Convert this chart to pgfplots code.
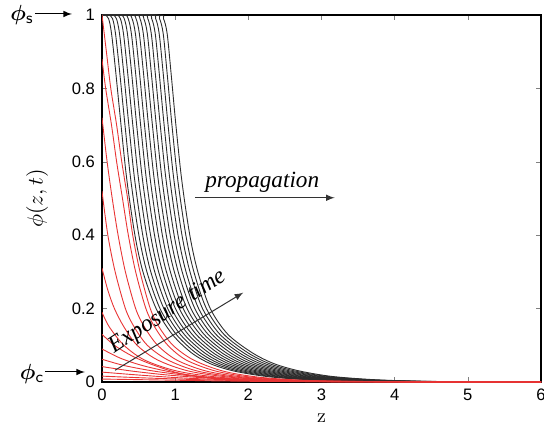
\documentclass[border=0pt]{standalone}
\usepackage[no-math]{fontspec}
\setmainfont{Liberation Sans}
\newfontfamily\serifit{Liberation Serif}
\usepackage{bm}
\usepackage{pgfplots}
\pgfplotsset{compat=1.18}
\usepackage{pgfplotstable}
\definecolor{curvered}{RGB}{232,52,52}
\definecolor{curveblk}{RGB}{45,45,45}

% black profiles: z position of each curve at fixed phi levels
\pgfplotstableread{
phi z0 z1 z2 z3 z4 z5 z6 z7 z8 z9 z10 z11 z12 z13 z14
1 0 0 0 0 0 0 0 0 0 0 0 0 0 0 0
1 0.040 0.092 0.144 0.196 0.249 0.301 0.353 0.405 0.457 0.509 0.561 0.614 0.666 0.718 0.770
0.99 0.090 0.144 0.197 0.251 0.304 0.358 0.411 0.465 0.519 0.572 0.626 0.679 0.733 0.786 0.840
0.95 0.130 0.184 0.239 0.293 0.347 0.401 0.456 0.510 0.564 0.619 0.673 0.727 0.781 0.836 0.890
0.85 0.185 0.239 0.293 0.347 0.401 0.455 0.509 0.563 0.616 0.670 0.724 0.778 0.832 0.886 0.940
0.7 0.260 0.314 0.367 0.421 0.474 0.528 0.581 0.635 0.689 0.742 0.796 0.849 0.903 0.956 1.010
0.55 0.340 0.394 0.447 0.501 0.554 0.608 0.661 0.715 0.769 0.822 0.876 0.929 0.983 1.036 1.090
0.4 0.450 0.504 0.557 0.611 0.664 0.718 0.771 0.825 0.879 0.932 0.986 1.039 1.093 1.146 1.200
0.3 0.560 0.614 0.667 0.721 0.774 0.828 0.881 0.935 0.989 1.042 1.096 1.149 1.203 1.256 1.310
0.2 0.740 0.793 0.846 0.899 0.951 1.004 1.057 1.110 1.163 1.216 1.269 1.321 1.374 1.427 1.480
0.13 0.960 1.014 1.069 1.123 1.177 1.231 1.286 1.340 1.394 1.449 1.503 1.557 1.611 1.666 1.720
0.08 1.220 1.279 1.339 1.398 1.457 1.516 1.576 1.635 1.694 1.754 1.813 1.872 1.931 1.991 2.050
0.05 1.480 1.542 1.604 1.666 1.729 1.791 1.853 1.915 1.977 2.039 2.101 2.164 2.226 2.288 2.350
0.03 1.800 1.864 1.929 1.993 2.057 2.121 2.186 2.250 2.314 2.379 2.443 2.507 2.571 2.636 2.700
0.015 2.250 2.314 2.379 2.443 2.507 2.571 2.636 2.700 2.764 2.829 2.893 2.957 3.021 3.086 3.150
0.006 2.800 2.868 2.936 3.004 3.071 3.139 3.207 3.275 3.343 3.411 3.479 3.546 3.614 3.682 3.750
0.002 3.450 3.518 3.586 3.654 3.721 3.789 3.857 3.925 3.993 4.061 4.129 4.196 4.264 4.332 4.400
0.0005 4.200 4.271 4.343 4.414 4.486 4.557 4.629 4.700 4.771 4.843 4.914 4.986 5.057 5.129 5.200
0 6 6 6 6 6 6 6 6 6 6 6 6 6 6 6
}\blacktab

\begin{document}
\begin{tikzpicture}
\begin{axis}[at={(0,0)},anchor=south west,scale only axis,
  width=219.5pt,height=183.5pt,
  xmin=0,xmax=6,ymin=0,ymax=1,
  xtick={0,1,2,3,4,5,6},xticklabels={0,1,2,3,4,5,6},
  ytick={0,0.2,0.4,0.6,0.8,1},yticklabels={0,0.2,0.4,0.6,0.8,1},
  tick align=inside,xtick pos=both,ytick pos=both,major tick length=2.5pt,
  tick label style={font=\fontsize{8.3}{10}\selectfont},
  axis line style={line width=0.6pt},
  xlabel={$\mathrm{z}$},ylabel={$\phi(z,t)$},
  xlabel style={font=\fontsize{10}{12}\selectfont,at={(axis description cs:0.5,-0.098)},anchor=center},
  ylabel style={font=\fontsize{11}{13}\selectfont,at={(axis description cs:-0.148,0.5)},anchor=center},
  every axis plot/.append style={smooth,tension=0.5}]
\pgfplotsinvokeforeach{0,...,14}{
  \addplot[curveblk,line width=0.45pt] table[x=z#1,y=phi]{\blacktab};
}
% early exposure profiles (red)
\addplot[curvered,line width=0.45pt] coordinates {(0,1) (0.06,0.9) (0.12,0.8) (0.2,0.7) (0.27,0.6) (0.35,0.5) (0.42,0.4) (0.52,0.3) (0.66,0.2) (0.78,0.15) (0.97,0.1) (1.25,0.06) (1.65,0.03) (2.15,0.013) (2.85,0.004) (3.9,0.001) (6,0)};
\addplot[curvered,line width=0.45pt] coordinates {(0,0.88) (0.05,0.8) (0.13,0.7) (0.2,0.6) (0.28,0.5) (0.36,0.4) (0.46,0.3) (0.6,0.2) (0.72,0.15) (0.9,0.1) (1.15,0.06) (1.55,0.03) (2.05,0.013) (2.75,0.004) (3.8,0.001) (6,0)};
\addplot[curvered,line width=0.45pt] coordinates {(0,0.72) (0.07,0.6) (0.14,0.5) (0.22,0.4) (0.32,0.3) (0.46,0.2) (0.58,0.15) (0.76,0.1) (1.02,0.06) (1.42,0.03) (1.95,0.013) (2.65,0.004) (3.7,0.001) (6,0)};
\addplot[curvered,line width=0.45pt] coordinates {(0,0.52) (0.08,0.4) (0.18,0.3) (0.32,0.2) (0.44,0.15) (0.62,0.1) (0.9,0.06) (1.3,0.03) (1.85,0.013) (2.55,0.004) (3.6,0.001) (6,0)};
\addplot[curvered,line width=0.45pt] coordinates {(0,0.31) (0.08,0.25) (0.17,0.2) (0.3,0.15) (0.48,0.1) (0.76,0.06) (1.18,0.03) (1.75,0.013) (2.5,0.004) (3.5,0.001) (6,0)};
\addplot[curvered,line width=0.45pt] coordinates {(0,0.19) (0.1,0.15) (0.3,0.1) (0.58,0.06) (1.02,0.03) (1.6,0.013) (2.4,0.004) (3.4,0.001) (6,0)};
\addplot[curvered,line width=0.45pt] coordinates {(0,0.13) (0.17,0.1) (0.42,0.07) (0.72,0.045) (1.1,0.022) (1.6,0.011) (2.3,0.004) (3.3,0.001) (6,0)};
\addplot[curvered,line width=0.45pt] coordinates {(0,0.09) (0.25,0.065) (0.55,0.045) (0.95,0.027) (1.45,0.012) (2.1,0.0045) (3.1,0.0012) (6,0)};
\addplot[curvered,line width=0.45pt] coordinates {(0,0.062) (0.3,0.045) (0.7,0.03) (1.2,0.017) (1.8,0.0065) (2.6,0.0025) (3.6,0.0007) (6,0)};
\addplot[curvered,line width=0.45pt] coordinates {(0,0.042) (0.4,0.03) (0.9,0.019) (1.5,0.01) (2.2,0.0038) (3.2,0.001) (6,0)};
\addplot[curvered,line width=0.45pt] coordinates {(0,0.027) (0.5,0.019) (1.1,0.011) (1.8,0.0055) (2.6,0.002) (3.6,0.0006) (6,0)};
\addplot[curvered,line width=0.45pt] coordinates {(0,0.016) (0.6,0.011) (1.3,0.0065) (2.1,0.003) (3.0,0.001) (6,0)};
\addplot[curvered,line width=0.45pt] coordinates {(0,0.008) (0.8,0.0055) (1.6,0.003) (2.6,0.0012) (6,0)};
\draw[-latex,line width=0.5pt,black!80] (axis cs:1.27,0.502) -- (axis cs:3.18,0.502);
\node[anchor=base,font=\serifit\itshape\fontsize{11.6}{14}\selectfont] at (axis cs:2.19,0.53) {propagation};
\draw[-latex,line width=0.5pt,black!80] (axis cs:0.178,0.032) -- (axis cs:1.93,0.2435);
\node[rotate=33.5,inner sep=0pt,font=\serifit\itshape\fontsize{11.8}{13}\selectfont] at (axis cs:0.9,0.19) {Exposure time};
\end{axis}
\draw[-latex,line width=0.5pt] (-33.5pt,184pt) -- (-15pt,184pt);
\node[font=\fontsize{11}{13}\selectfont] at (-40pt,183.5pt) {$\bm{\phi}_{\mathsf{s}}$};
\draw[-latex,line width=0.5pt] (-28.5pt,5pt) -- (-8.5pt,5pt);
\node[font=\fontsize{11}{13}\selectfont] at (-35pt,4pt) {$\bm{\phi}_{\mathsf{c}}$};
\pgfresetboundingbox
\path[use as bounding box] (-51pt,-25pt) rectangle (221pt,191pt);
\end{tikzpicture}
\end{document}
